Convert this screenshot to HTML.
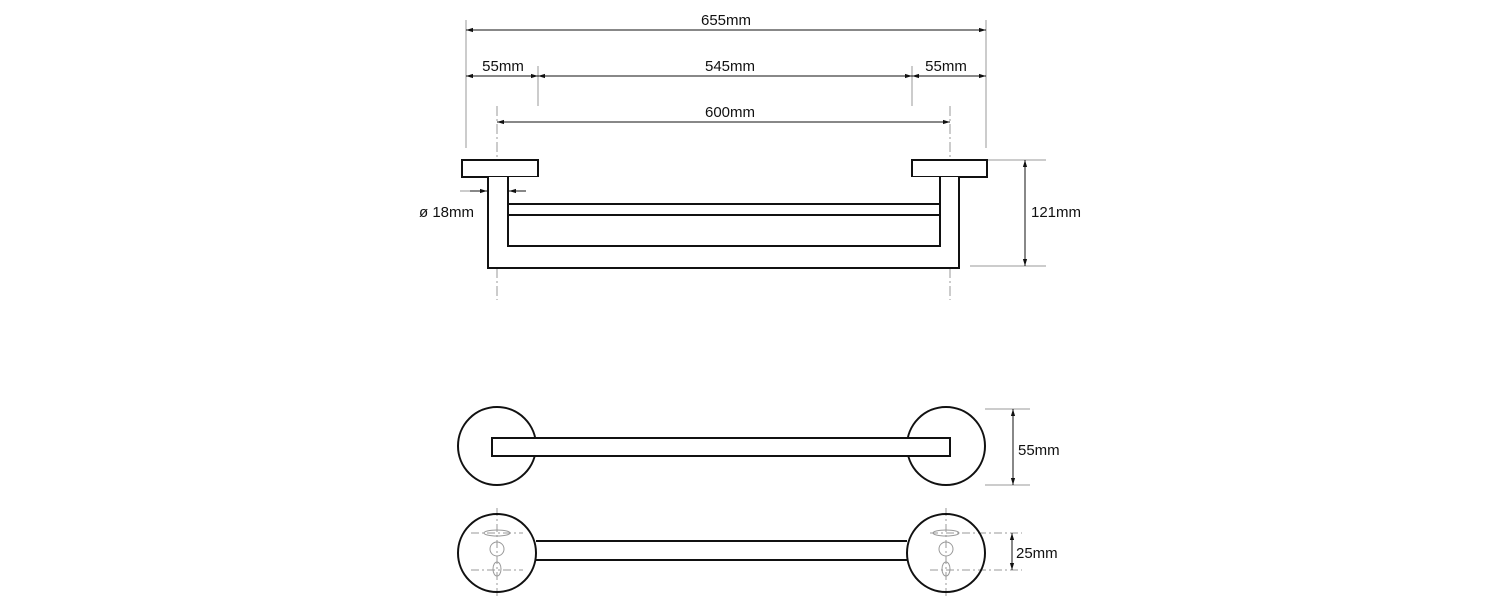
<!DOCTYPE html>
<html><head><style>body{margin:0;background:#fff}svg{display:block}text{font-family:"Liberation Sans",sans-serif;font-size:15px;fill:#111}</style></head><body>
<svg width="1500" height="608" viewBox="0 0 1500 608" xmlns="http://www.w3.org/2000/svg">
<defs><marker id="a" viewBox="0 0 10 10" refX="10" refY="5" markerWidth="7" markerHeight="7" orient="auto-start-reverse"><path d="M0,2 L10,5 L0,8z" fill="#111"/></marker></defs>
<g stroke="#999" stroke-width="1" fill="none">
<line x1="466" y1="20" x2="466" y2="148"/><line x1="986" y1="20" x2="986" y2="148"/>
<line x1="538" y1="66" x2="538" y2="106"/><line x1="912" y1="66" x2="912" y2="106"/>
<line x1="497" y1="106" x2="497" y2="300" stroke-dasharray="10,3,2,3"/><line x1="950" y1="106" x2="950" y2="300" stroke-dasharray="10,3,2,3"/>
<line x1="970" y1="160" x2="1046" y2="160"/><line x1="970" y1="266" x2="1046" y2="266"/>
<line x1="460" y1="191" x2="488" y2="191"/><line x1="508" y1="191" x2="534" y2="191"/>
<line x1="985" y1="409" x2="1030" y2="409"/><line x1="985" y1="485" x2="1030" y2="485"/>
<g stroke-dasharray="8,3,2,3"><line x1="930" y1="533" x2="1022" y2="533"/><line x1="930" y1="570" x2="1022" y2="570"/>
<line x1="471" y1="533" x2="523" y2="533"/><line x1="471" y1="570" x2="523" y2="570"/>
<line x1="497" y1="508" x2="497" y2="598"/><line x1="946" y1="508" x2="946" y2="598"/></g>
<ellipse cx="497" cy="533" rx="13" ry="3"/><circle cx="497" cy="549" r="7"/><ellipse cx="497" cy="569" rx="4" ry="7"/>
<ellipse cx="946" cy="533" rx="13" ry="3"/><circle cx="946" cy="549" r="7"/><ellipse cx="946" cy="569" rx="4" ry="7"/>
</g>
<g stroke="#111" stroke-width="2" fill="#fff">
<rect x="462" y="160" width="76" height="17"/><rect x="912" y="160" width="75" height="17"/>
<path d="M488 177 V268 H959 V177 M508 177 V246 H940 V177 M508 204 H940 M508 215 H940"/>
<circle cx="497" cy="446" r="39"/><circle cx="946" cy="446" r="39"/>
<rect x="492" y="438" width="458" height="18"/>
<circle cx="497" cy="553" r="39" fill="none"/><circle cx="946" cy="553" r="39" fill="none"/>
<path d="M536 541 H907 M536 560 H907" fill="none"/>
</g>
<g stroke="#111" stroke-width="1" marker-start="url(#a)" marker-end="url(#a)">
<line x1="466" y1="30" x2="986" y2="30"/>
<line x1="466" y1="76" x2="538" y2="76"/><line x1="538" y1="76" x2="912" y2="76"/><line x1="912" y1="76" x2="986" y2="76"/>
<line x1="497" y1="122" x2="950" y2="122"/>
<line x1="1025" y1="160" x2="1025" y2="266"/>
<line x1="1013" y1="409" x2="1013" y2="485"/>
<line x1="1012" y1="533" x2="1012" y2="570"/>
</g>
<g stroke="#111" stroke-width="1" marker-end="url(#a)"><line x1="470" y1="191" x2="487" y2="191"/><line x1="526" y1="191" x2="509" y2="191"/></g>
<text x="726" y="25" text-anchor="middle">655mm</text>
<text x="503" y="71" text-anchor="middle">55mm</text>
<text x="730" y="71" text-anchor="middle">545mm</text>
<text x="946" y="71" text-anchor="middle">55mm</text>
<text x="730" y="117" text-anchor="middle">600mm</text>
<text x="419" y="217">ø 18mm</text>
<text x="1031" y="217">121mm</text>
<text x="1018" y="455">55mm</text>
<text x="1016" y="558">25mm</text>
</svg></body></html>
